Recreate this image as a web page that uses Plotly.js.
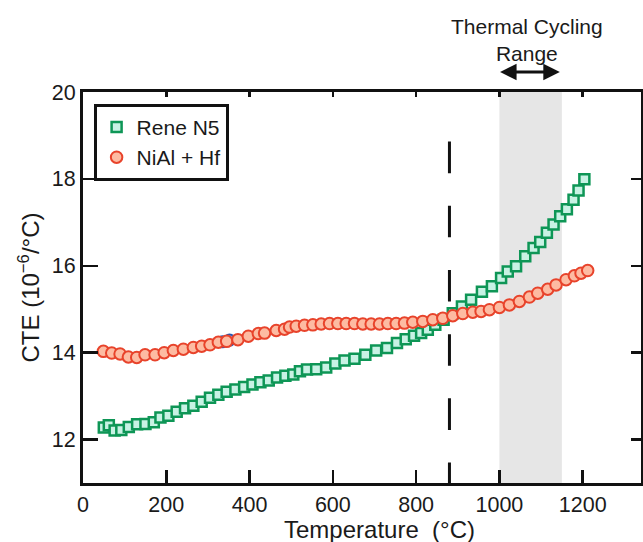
<!DOCTYPE html>
<html>
<head>
<meta charset="utf-8">
<script src="https://cdn.plot.ly/plotly-3.0.1.min.js"></script>
<style>html,body{margin:0;padding:0;background:#fff;}#chart{width:643px;height:542px;}</style>
</head>
<body>
<div id="chart"></div>
<script>
// Rene N5 (squares)
const reneT = [50,62,76,92,110,130,150,170,186,205,225,245,265,285,305,325,345,366,387,407,426,446,466,486,505,521,538,560,584,606,628,652,678,704,730,754,775,795,812,828,846,866,888,910,932,958,982,1004,1020,1040,1062,1082,1098,1114,1130,1146,1162,1178,1190,1204];
const reneCTE = [12.28,12.33,12.21,12.22,12.29,12.35,12.36,12.40,12.51,12.55,12.64,12.72,12.78,12.87,12.96,13.03,13.10,13.15,13.21,13.27,13.32,13.36,13.43,13.47,13.50,13.57,13.61,13.62,13.66,13.75,13.82,13.86,13.95,14.05,14.11,14.22,14.31,14.39,14.45,14.53,14.64,14.76,14.91,15.06,15.22,15.40,15.53,15.72,15.87,15.99,16.22,16.41,16.55,16.76,16.95,17.14,17.30,17.52,17.73,17.99];
// NiAl + Hf (circles)
const nialT = [49,69,89,109,129,149,173,195,217,241,265,285,305,325,345,372,397,421,436,464,484,496,512,532,552,572,592,612,632,652,672,692,712,732,752,772,792,816,840,864,888,912,936,956,976,1000,1024,1048,1072,1092,1116,1136,1160,1180,1196,1212];
const nialCTE = [14.03,13.99,13.97,13.90,13.89,13.95,13.95,14.00,14.05,14.08,14.12,14.15,14.18,14.24,14.26,14.30,14.38,14.44,14.45,14.51,14.54,14.59,14.61,14.63,14.64,14.66,14.67,14.67,14.67,14.67,14.66,14.66,14.66,14.67,14.67,14.68,14.70,14.72,14.76,14.79,14.85,14.90,14.93,14.95,14.99,15.04,15.10,15.18,15.28,15.37,15.46,15.56,15.68,15.77,15.83,15.89];
// partly hidden points behind NiAl series
const hiddenT = [335,352];
const hiddenCTE = [14.25,14.29];
// annotations
const cycleRange = [1000,1150];
const transitionT = 880;
const dashTop = 18.86;
const xRange = [0,1340];
const yRange = [11,20];
const xTicks = [0,200,400,600,800,1000,1200];
const yTicks = [12,14,16,18,20];
const cycleLabel = 'Thermal Cycling<br>Range';
const xTitle = 'Temperature\u00a0\u00a0(°C)';
const yTitle = 'CTE (10<sup>−6</sup>/°C)';

const FONT = 'Liberation Sans, Arial, Helvetica, sans-serif';
const INK = '#1a1a1a';

const traces = [
  {x: hiddenT, y: hiddenCTE, type:'scatter', mode:'markers', showlegend:false, hoverinfo:'skip',
   marker:{symbol:'circle', size:11, color:'#8fb0e0', line:{color:'#2a55b0', width:2}}},
  {x: reneT, y: reneCTE, type:'scatter', mode:'markers', name:'Rene N5',
   marker:{symbol:'square', size:10, color:'#c8f2e4', line:{color:'#0e9656', width:2.5}}},
  {x: nialT, y: nialCTE, type:'scatter', mode:'markers', name:'NiAl + Hf',
   marker:{symbol:'circle', size:11.5, color:'#fdbba2', line:{color:'#e8432b', width:2}}},
  {x: [], y: [], xaxis:'x2', yaxis:'y2', type:'scatter', mode:'markers', showlegend:false, hoverinfo:'skip'}
];

const layout = {
  width:643, height:542,
  margin:{l:83, r:2, t:92, b:59},
  paper_bgcolor:'#fff', plot_bgcolor:'#fff',
  font:{family:FONT, color:INK, size:21},
  showlegend:true,
  legend:{x:0.019, y:0.97, xanchor:'left', yanchor:'top', bgcolor:'#fff',
          bordercolor:'#111', borderwidth:3, font:{family:FONT, size:21, color:INK},
          tracegroupgap:0, itemsizing:'trace'},
  xaxis:{range:xRange, tickvals:xTicks, ticks:'inside', ticklen:13, tickwidth:2.5, tickcolor:'#111',
         showline:true, linewidth:3, linecolor:'#111', showgrid:false, zeroline:false,
         tickfont:{family:FONT, size:21.5, color:INK}},
  yaxis:{range:yRange, tickvals:yTicks, ticks:'inside', ticklen:15, tickwidth:2.5, tickcolor:'#111',
         showline:true, linewidth:3, linecolor:'#111', showgrid:false, zeroline:false,
         tickfont:{family:FONT, size:21.5, color:INK},
         title:{text:yTitle, font:{family:FONT, size:24, color:INK}, standoff:6}},
  xaxis2:{range:xRange, overlaying:'x', side:'top', anchor:'y2', tickvals:xTicks, ticks:'inside', ticklen:5,
          tickwidth:2.5, tickcolor:'#111', showticklabels:false, showline:true, linewidth:3, linecolor:'#111',
          showgrid:false, zeroline:false},
  yaxis2:{range:yRange, overlaying:'y', side:'right', anchor:'x2', tickvals:yTicks, ticks:'inside', ticklen:10,
          tickwidth:2.5, tickcolor:'#111', showticklabels:false, showline:true, linewidth:3, linecolor:'#111',
          showgrid:false, zeroline:false},
  shapes:[
    {type:'rect', xref:'x', yref:'y', x0:cycleRange[0], x1:cycleRange[1], y0:yRange[0], y1:yRange[1],
     fillcolor:'#e6e6e6', line:{width:0}, layer:'below'},
    {type:'line', xref:'x', yref:'y', x0:transitionT, x1:transitionT, y0:dashTop, y1:yRange[0],
     line:{color:'#111', width:3, dash:'31.6px,32.6px'}}
  ],
  annotations:[
    {x:cycleRange[1]-5, y:1.0512, ax:cycleRange[0]-2, ay:0, xref:'x', yref:'paper', axref:'x', ayref:'pixel',
     text:'', showarrow:true, arrowside:'end+start', arrowhead:2, arrowsize:1.1, arrowwidth:3, arrowcolor:'#111'},
    {x:(cycleRange[0]+cycleRange[1])/2 - 8, y:1.1325, xref:'x', yref:'paper', text:cycleLabel, showarrow:false,
     font:{family:FONT, size:21, color:INK}, align:'center', xanchor:'center', yanchor:'middle'},
    {x:0.532, y:-0.12, xref:'paper', yref:'paper', text:xTitle, showarrow:false,
     font:{family:FONT, size:24, color:INK}, xanchor:'center', yanchor:'middle'}
  ]
};

Plotly.newPlot('chart', traces, layout, {displayModeBar:false, staticPlot:true});
</script>
</body>
</html>
